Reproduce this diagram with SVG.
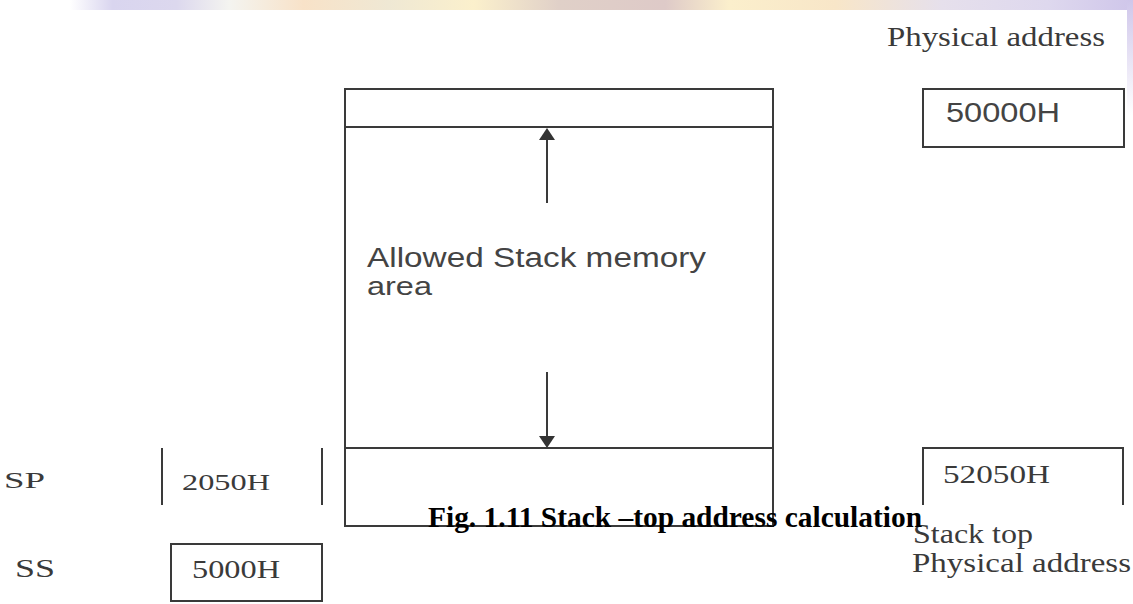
<svg xmlns="http://www.w3.org/2000/svg" width="1133" height="604" viewBox="0 0 1133 604">
<style>
.ln{fill:none;stroke:#3a3a3a;stroke-width:2}
.serif{font-family:"Liberation Serif","Times New Roman",serif;fill:#3a3a3a}
.sans{font-family:"Liberation Sans",Arial,sans-serif;fill:#444}
.cap{font-family:"Liberation Serif","Times New Roman",serif;font-weight:bold;fill:#000}
.head{fill:#333}
</style>
<defs>
<linearGradient id="band" x1="0" y1="0" x2="1" y2="0">
<stop offset="0" stop-color="#ffffff"/>
<stop offset="0.04" stop-color="#d9d5ef"/>
<stop offset="0.1" stop-color="#dcd8ee"/>
<stop offset="0.15" stop-color="#f4f4f0"/>
<stop offset="0.22" stop-color="#f8e2c8"/>
<stop offset="0.3" stop-color="#efe8d4"/>
<stop offset="0.38" stop-color="#fbf0cc"/>
<stop offset="0.46" stop-color="#e0d0c8"/>
<stop offset="0.56" stop-color="#decac8"/>
<stop offset="0.62" stop-color="#fbefcc"/>
<stop offset="0.72" stop-color="#f8e6c8"/>
<stop offset="0.82" stop-color="#e6e0ec"/>
<stop offset="0.92" stop-color="#ded8ee"/>
<stop offset="1" stop-color="#cfc6ea"/>
</linearGradient>
<linearGradient id="edge" x1="0" y1="0" x2="0" y2="1">
<stop offset="0" stop-color="#cfc6ea"/>
<stop offset="1" stop-color="#ffffff"/>
</linearGradient>
</defs>
<rect width="1133" height="604" fill="#ffffff"/>
<rect x="70" y="0" width="1063" height="10" fill="url(#band)"/>
<rect x="1127" y="0" width="6" height="115" fill="url(#edge)"/>

<g id="connectors">
<line class="ln" x1="547" y1="203" x2="547" y2="139"/>
<polygon class="head" points="547,128 539,140 555,140"/>
<line class="ln" x1="547" y1="372" x2="547" y2="437"/>
<polygon class="head" points="547,448 539,436 555,436"/>
</g>

<g id="stack-memory">
<rect class="ln" x="345" y="89" width="428" height="437"/>
<line class="ln" x1="345" y1="127" x2="773" y2="127"/>
<line class="ln" x1="345" y1="448" x2="773" y2="448"/>
<text class="sans" x="367" y="267" font-size="27" textLength="339" lengthAdjust="spacingAndGlyphs">Allowed Stack memory</text>
<text class="sans" x="367" y="295" font-size="26" textLength="65" lengthAdjust="spacingAndGlyphs">area</text>
</g>

<g id="phys-label-top">
<text class="serif" x="887" y="46" font-size="27" textLength="218" lengthAdjust="spacingAndGlyphs">Physical address</text>
</g>

<g id="addr-50000H">
<rect class="ln" x="923" y="89" width="201" height="58"/>
<text class="sans" x="946" y="122" font-size="28" textLength="114" lengthAdjust="spacingAndGlyphs">50000H</text>
</g>

<g id="sp">
<text class="serif" x="4" y="488" font-size="24" textLength="41" lengthAdjust="spacingAndGlyphs">SP</text>
<line class="ln" x1="162" y1="448" x2="162" y2="505"/>
<line class="ln" x1="322" y1="448" x2="322" y2="505"/>
<text class="serif" x="182" y="490" font-size="24" textLength="88" lengthAdjust="spacingAndGlyphs">2050H</text>
</g>

<g id="ss">
<text class="serif" x="15" y="577" font-size="25" textLength="40" lengthAdjust="spacingAndGlyphs">SS</text>
<rect class="ln" x="171" y="544" width="151" height="57"/>
<text class="serif" x="192" y="578" font-size="25" textLength="88" lengthAdjust="spacingAndGlyphs">5000H</text>
</g>

<g id="addr-52050H">
<path class="ln" d="M923,505 V448 H1123 V505"/>
<text class="serif" x="943" y="483" font-size="25" textLength="107" lengthAdjust="spacingAndGlyphs">52050H</text>
<text class="serif" x="913" y="543" font-size="28" textLength="120" lengthAdjust="spacingAndGlyphs">Stack top</text>
<text class="serif" x="912" y="572" font-size="27" textLength="219" lengthAdjust="spacingAndGlyphs">Physical address</text>
</g>

<g id="caption">
<text class="cap" x="428" y="527" font-size="29" textLength="494" lengthAdjust="spacingAndGlyphs">Fig. 1.11 Stack –top address calculation</text>
</g>
</svg>
